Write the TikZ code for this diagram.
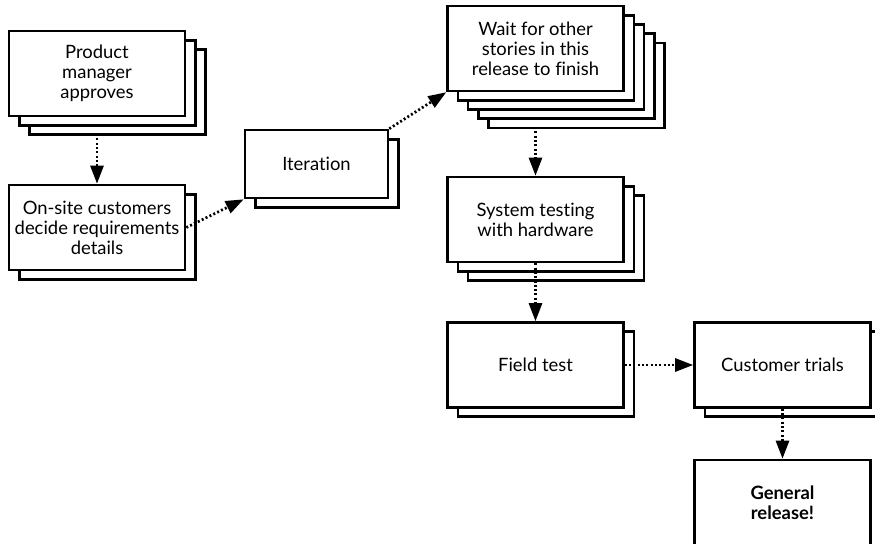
\documentclass[tikz,border=0pt]{standalone}
\usepackage{fontspec}
\setmainfont{Lato}[Ligatures=NoCommon]
\usetikzlibrary{shadows,arrows.meta}

\tikzset{
  stage/.style={draw, line width=1.3pt, fill=white, align=center, inner sep=0pt,
    minimum width=88pt, minimum height=42.5pt, font=\fontsize{9.2}{10}\selectfont},
  twofold/.style={copy shadow={shadow xshift=5.15pt, shadow yshift=-4.6pt, line width=1.3pt}},
  threefold/.style={copy shadow={shadow xshift=10.3pt, shadow yshift=-9.2pt, line width=1.3pt},
    twofold},
  fivefold/.style={copy shadow={shadow xshift=20.6pt, shadow yshift=-18.4pt, line width=1.3pt},
    copy shadow={shadow xshift=15.45pt, shadow yshift=-13.8pt, line width=1.3pt},
    threefold},
  flow/.style={line width=1.35pt, dash pattern=on 1pt off 1.15pt, -{Triangle[length=9pt,width=6.5pt]}}
}

\begin{document}
\begin{tikzpicture}[x=0.5pt, y=-0.5pt]
\clip (0,0) rectangle (875,543);

\node[stage, threefold] (approve) at (97,73.5) {Product\\manager\\approves};
\node[stage, twofold] (onsite) at (97,227.5) {On-site customers\\decide requirements\\details};
\node[stage, twofold, minimum width=71.5pt, minimum height=34pt] (iter) at (316.5,164) {Iteration};
\node[stage, fivefold] (wait) at (535.5,48.5) {Wait for other\\stories in this\\release to finish};
\node[stage, threefold] (systest) at (535.5,219.5) {System testing\\with hardware};
\node[stage, twofold] (field) at (535.5,365) {Field test};
\node[stage, twofold] (trials) at (782.5,365) {Customer trials};
\node[stage, font=\fontsize{9.2}{10}\selectfont\bfseries] (release) at (782.5,502.5) {General\\release!};

\draw[flow, shorten <=10.5pt] (approve) -- (onsite);
\draw[flow] (onsite.east) -- (iter.south west);
\draw[flow] (iter.north east) -- (wait.south west);
\draw[flow, shorten <=19.5pt] (wait) -- (systest);
\draw[flow] (systest) -- (field);
\draw[flow] (field) -- (trials);
\draw[flow] (trials) -- (release);
\end{tikzpicture}
\end{document}
